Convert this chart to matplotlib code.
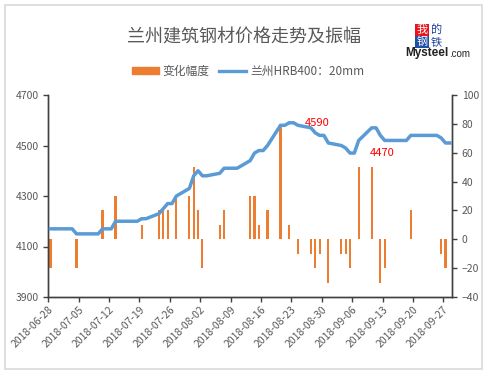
import pandas as pd
import matplotlib
matplotlib.use('Agg')
import matplotlib.pyplot as plt
import matplotlib.dates as mdates
from matplotlib.patches import Rectangle, Patch
from matplotlib.lines import Line2D

plt.rcParams['font.family'] = ['Noto Sans CJK SC', 'DejaVu Sans']

# data: price on trading days (weekdays), daily change bars
price_dates = pd.bdate_range('2018-06-28', '2018-09-28')
price = [4170, 4170,
         4170, 4170, 4150, 4150, 4150,
         4150, 4170, 4170, 4170, 4200,
         4200, 4200, 4200, 4210, 4210,
         4230, 4250, 4270, 4270, 4300,
         4330, 4380, 4400, 4380, 4380,
         4390, 4410, 4410, 4410, 4410,
         4440, 4470, 4480, 4480, 4500,
         4580, 4580, 4590, 4590, 4580,
         4570, 4550, 4540, 4540, 4510,
         4500, 4490, 4470, 4470, 4520,
         4570, 4570, 4540, 4520, 4520,
         4520, 4520, 4540, 4540, 4540,
         4540, 4540, 4530, 4510, 4510]

change_dates = pd.to_datetime([
    '2018-06-28', '2018-07-04', '2018-07-10', '2018-07-13', '2018-07-19',
    '2018-07-23', '2018-07-24', '2018-07-25', '2018-07-27', '2018-07-30',
    '2018-07-31', '2018-08-01', '2018-08-02', '2018-08-06', '2018-08-07',
    '2018-08-13', '2018-08-14', '2018-08-15', '2018-08-17', '2018-08-20',
    '2018-08-22', '2018-08-24', '2018-08-27', '2018-08-28', '2018-08-29',
    '2018-08-31', '2018-09-03', '2018-09-04', '2018-09-05', '2018-09-07',
    '2018-09-10', '2018-09-12', '2018-09-13', '2018-09-19', '2018-09-26',
    '2018-09-27'])
change = [-20, -20, 20, 30, 10,
          20, 20, 20, 30, 30,
          50, 20, -20, 10, 20,
          30, 30, 10, 20, 80,
          10, -10, -10, -20, -10,
          -30, -10, -10, -20, 50,
          50, -30, -20, 20, -10,
          -20]

tick_dates = pd.date_range('2018-06-28', '2018-09-27', freq='7D')
half_day = pd.Timedelta(hours=12)

grey = '#595959'
axis_col = '#404040'
orange = '#ED7D31'
blue = '#5B9BD5'

fig = plt.figure(figsize=(4.9, 3.76), dpi=100)
fig.patches.append(Rectangle((5 / 490, 1 - 369 / 376), 477 / 490, 364 / 376,
                             transform=fig.transFigure, fill=False,
                             edgecolor='#D9D9D9', lw=1.2))

ax = fig.add_axes([48.3 / 490, 1 - 297 / 376, 403.7 / 490, 202 / 376])
ax.bar(change_dates + half_day, change, width=0.5, color=orange, zorder=2)
ax.set_ylim(-40, 100)
ax.set_yticks(range(-40, 101, 20))

ax2 = ax.twinx()
ax2.plot(price_dates + half_day, price, color=blue, lw=2.5,
         solid_joinstyle='round', zorder=3)
ax2.set_ylim(3900, 4700)
ax2.set_yticks(range(3900, 4701, 200))
ax2.yaxis.tick_left()
ax.yaxis.tick_right()

ax.set_xlim(mdates.date2num(pd.Timestamp('2018-06-28')),
            mdates.date2num(pd.Timestamp('2018-09-29')))
ax.set_xticks(tick_dates)
ax.set_xticklabels([d.strftime('%Y-%m-%d') for d in tick_dates],
                   rotation=45, ha='right', rotation_mode='anchor')

for a in (ax, ax2):
    a.spines['top'].set_visible(False)
    for s in ('left', 'right', 'bottom'):
        a.spines[s].set_color(axis_col)
        a.spines[s].set_linewidth(1.0)
    a.tick_params(colors=axis_col, labelcolor=grey, labelsize=7.5,
                  length=3.5, width=1.0, direction='out')
ax.tick_params(axis='x', pad=2)

# point labels
ax2.text(mdates.date2num(pd.Timestamp('2018-08-26 04:00')), 4590, '4590',
         color='red', fontsize=8, ha='left', va='center', zorder=4)
ax2.text(mdates.date2num(pd.Timestamp('2018-09-12 22:00')), 4469, '4470',
         color='red', fontsize=8, ha='center', va='center', zorder=4)

# title
fig.text(244 / 490, 1 - 38 / 376, '兰州建筑钢材价格走势及振幅',
         ha='center', va='center', fontsize=13, color=grey)

# legend
handles = [Patch(facecolor=orange, edgecolor=orange),
           Line2D([0], [0], color=blue, lw=2.4)]
fig.legend(handles, ['变化幅度', '兰州HRB400：20mm'], ncol=2,
           loc='center', bbox_to_anchor=(248 / 490, 1 - 71 / 376),
           frameon=False, fontsize=8.5, labelcolor=grey,
           handlelength=2.3, handleheight=0.5, handletextpad=0.3,
           columnspacing=0.8)

# logo
cells = [('我', 415, 24, '#E8141B', 'white'),
         ('的', 429, 24, 'white', '#1F3F9A'),
         ('钢', 415, 36, '#1F4FA8', 'white'),
         ('铁', 429, 36, 'white', '#1F3F9A')]
for ch, x0, y0, bg, fg in cells:
    fig.patches.append(Rectangle((x0 / 490, 1 - (y0 + 12) / 376), 14 / 490, 12 / 376,
                                 transform=fig.transFigure, facecolor=bg,
                                 edgecolor='none'))
    fig.text((x0 + 7) / 490, 1 - (y0 + 6) / 376, ch, ha='center', va='center',
             fontsize=8, color=fg, family=['Noto Sans CJK SC'])
fig.text(405 / 490, 1 - 53 / 376, 'Mysteel', ha='left', va='center',
         fontsize=8.5, fontweight='bold', color='#222222',
         family=['Liberation Sans'])
fig.text(449 / 490, 1 - 54 / 376, '.com', ha='left', va='center',
         fontsize=7, color='#222222', family=['Liberation Sans'])

fig.savefig('out.png', dpi=100)
